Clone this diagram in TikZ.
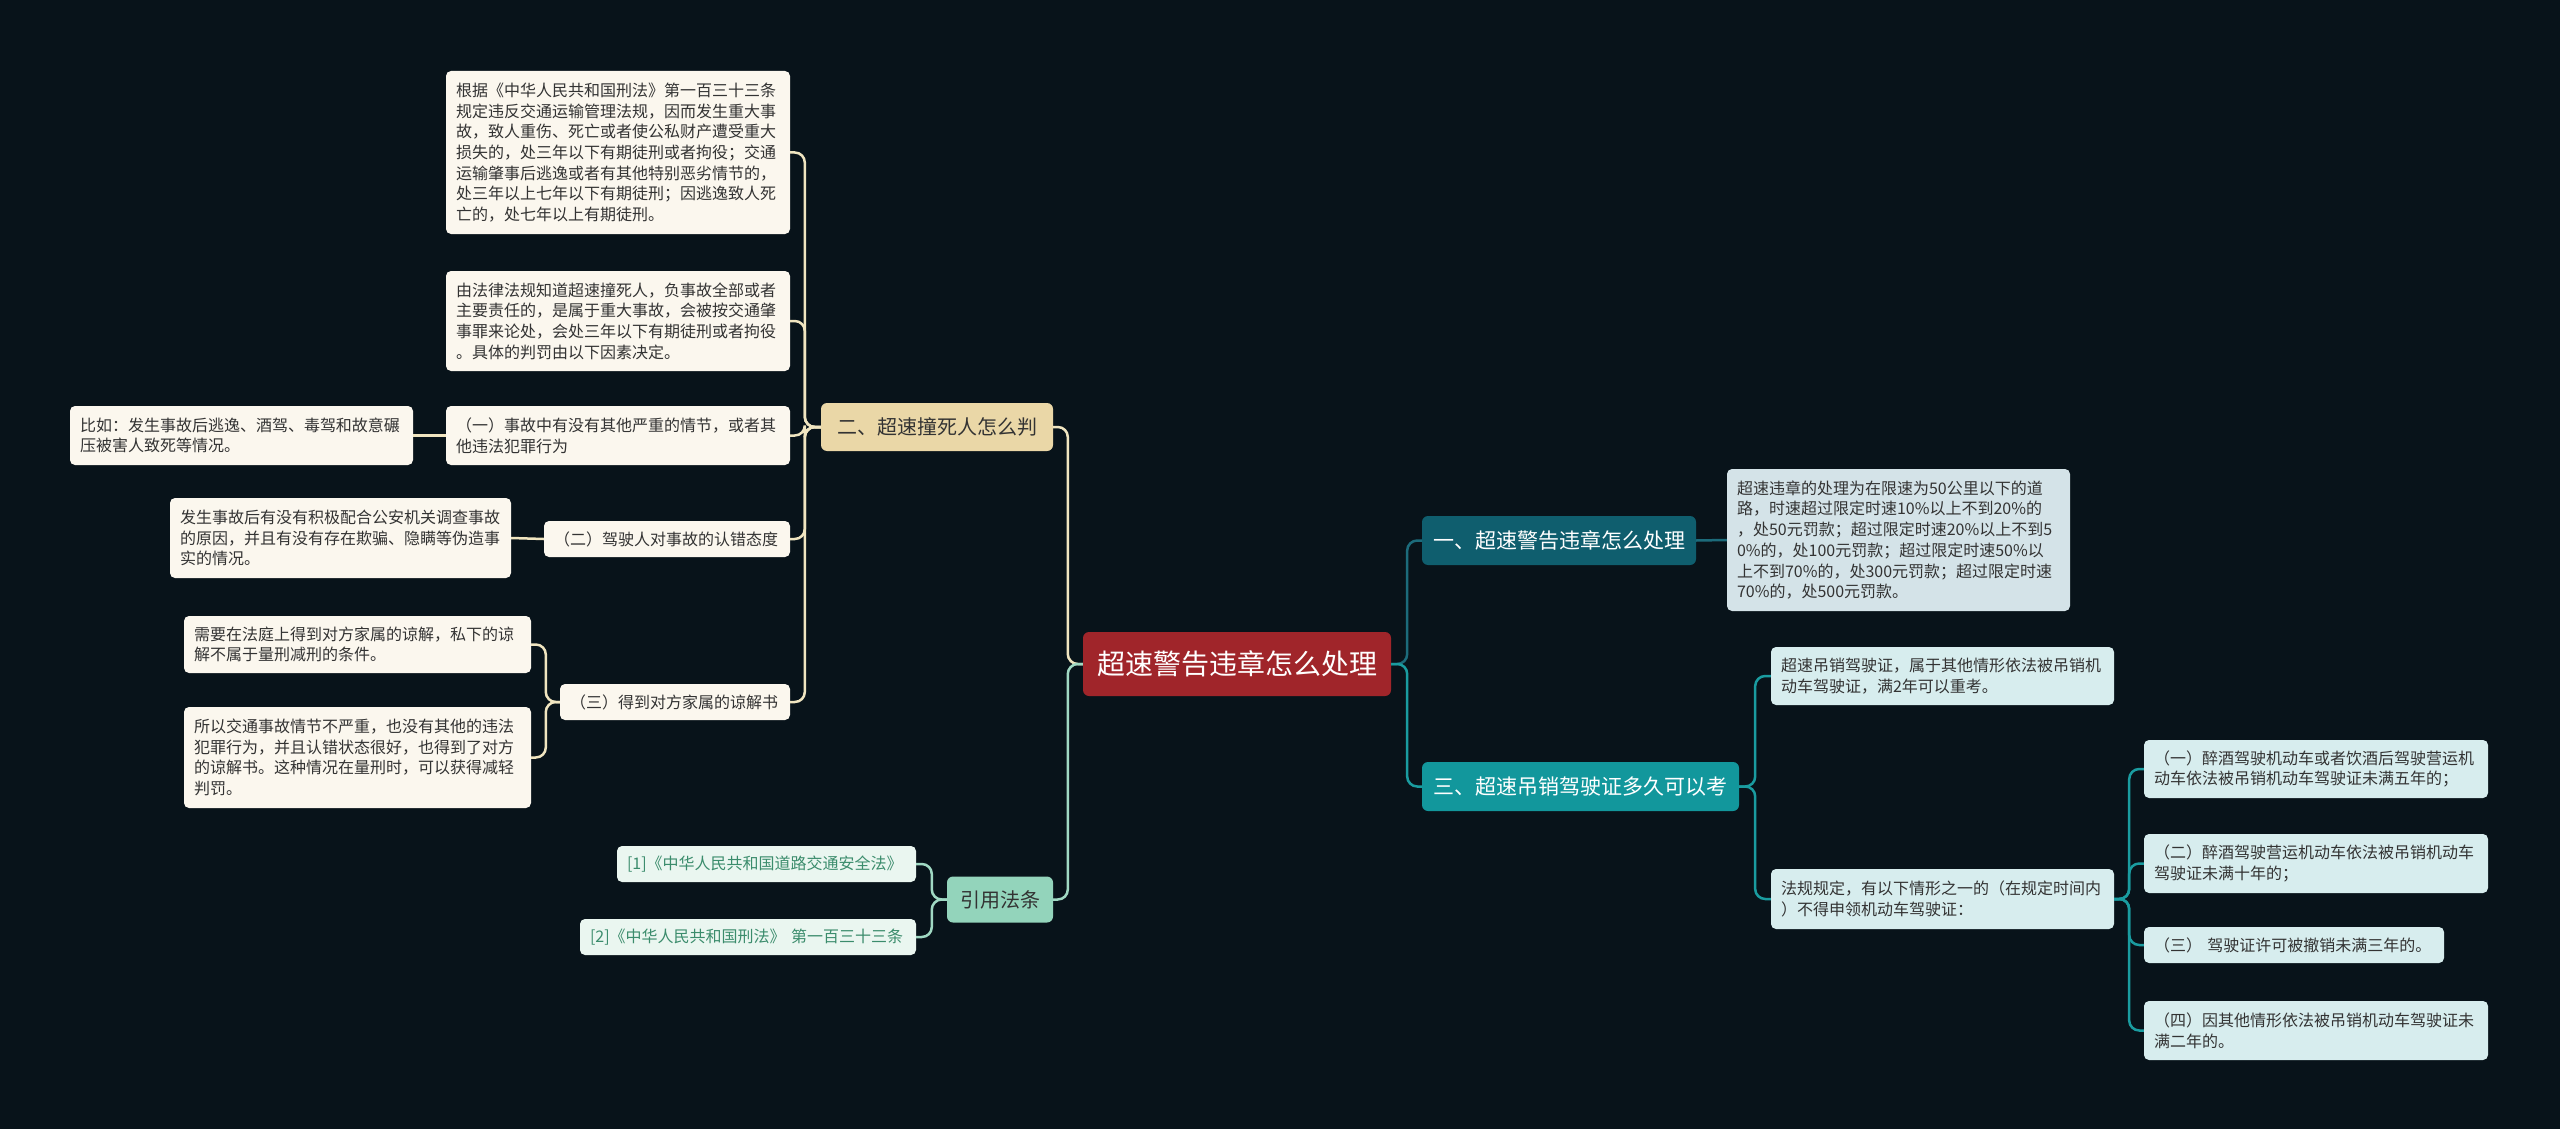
\documentclass[tikz,border=0pt]{standalone}
\usepackage{fontspec}
\setmainfont{Noto Sans CJK SC}
\usetikzlibrary{calc}
\definecolor{bg}{HTML}{08131A}
\definecolor{rootc}{HTML}{A0252A}
\definecolor{tan}{HTML}{EAD7A7}
\definecolor{lineL}{HTML}{F0E5C0}
\definecolor{leafL}{HTML}{FBF7EE}
\definecolor{txt}{HTML}{333333}
\definecolor{mint}{HTML}{93D4BB}
\definecolor{mintline}{HTML}{A0D9C3}
\definecolor{mintleaf}{HTML}{EAF6F0}
\definecolor{minttxt}{HTML}{3B8C6C}
\definecolor{dteal}{HTML}{0F5E6E}
\definecolor{dtealline}{HTML}{1C6B7B}
\definecolor{dtealleaf}{HTML}{D4E3E8}
\definecolor{teal}{HTML}{12979C}
\definecolor{tealline}{HTML}{1A9CA0}
\definecolor{tealleaf}{HTML}{D7EDEE}
\tikzset{
  box/.style={rectangle, rounded corners=5pt, inner xsep=10pt, inner ysep=0pt, align=left,
    font=\fontsize{16}{20.7}\selectfont, text=txt},
  bw/.style={text width=#1-20pt, minimum height=0pt},
  bh/.style={minimum height=#1},
  leafL/.style={box, fill=leafL},
  leafM/.style={box, fill=mintleaf, text=minttxt},
  leafD/.style={box, fill=dtealleaf},
  leafT/.style={box, fill=tealleaf},
  mainbox/.style={rectangle, rounded corners=6pt, inner sep=0pt, align=center, font=\fontsize{20}{24}\selectfont},
  conL/.style={draw=lineL, line width=2.5pt, rounded corners=10pt},
  conM/.style={draw=mintline, line width=2.5pt, rounded corners=10pt},
  conD/.style={draw=dtealline, line width=2.5pt, rounded corners=10pt},
  conT/.style={draw=tealline, line width=2.5pt, rounded corners=10pt},
}
\begin{document}
\begin{tikzpicture}[x=1pt,y=-1pt]
\useasboundingbox (0,0) rectangle (2560,1129);
\fill[bg] (0,0) rectangle (2560,1129);

% root
\node[mainbox, fill=rootc, text=white, minimum width=308pt, minimum height=64pt, font=\fontsize{28}{32}\selectfont] (root) at (1237,664) {超速警告违章怎么处理};

% left main branches
\node[mainbox, fill=tan, text=txt, minimum width=232pt, minimum height=48pt] (n2) at (937,427) {二、超速撞死人怎么判};
\node[mainbox, fill=mint, text=txt, minimum width=106pt, minimum height=46pt] (ref) at (1000,899.5) {引用法条};

% right main branches
\node[mainbox, fill=dteal, text=white, minimum width=274pt, minimum height=49pt, font=\fontsize{21}{25}\selectfont] (n1) at (1559,540.5) {一、超速警告违章怎么处理};
\node[mainbox, fill=teal, text=white, minimum width=317pt, minimum height=49pt, font=\fontsize{21}{25}\selectfont] (n3) at (1580.5,786.5) {三、超速吊销驾驶证多久可以考};

% left leaves
\node[leafL, bw=344pt, bh=163pt] (a1) at (618,152.5) {根据《中华人民共和国刑法》第一百三十三条\\规定违反交通运输管理法规，因而发生重大事\\故，致人重伤、死亡或者使公私财产遭受重大\\损失的，处三年以下有期徒刑或者拘役；交通\\运输肇事后逃逸或者有其他特别恶劣情节的，\\处三年以上七年以下有期徒刑；因逃逸致人死\\亡的，处七年以上有期徒刑。};
\node[leafL, bw=344pt, bh=100pt] (a2) at (618,321) {由法律法规知道超速撞死人，负事故全部或者\\主要责任的，是属于重大事故，会被按交通肇\\事罪来论处，会处三年以下有期徒刑或者拘役\\。具体的判罚由以下因素决定。};
\node[leafL, bw=344pt, bh=59pt] (a3) at (618,435.5) {（一）事故中有没有其他严重的情节，或者其\\他违法犯罪行为};
\node[leafL, bw=343pt, bh=59pt] (a3c) at (241.5,435.5) {比如：发生事故后逃逸、酒驾、毒驾和故意碾\\压被害人致死等情况。};
\node[leafL, bw=246pt, bh=36pt] (a4) at (667,539) {（二）驾驶人对事故的认错态度};
\node[leafL, bw=341pt, bh=80pt] (a4c) at (340.5,538) {发生事故后有没有积极配合公安机关调查事故\\的原因，并且有没有存在欺骗、隐瞒等伪造事\\实的情况。};
\node[leafL, bw=230pt, bh=36pt] (a5) at (675,702) {（三）得到对方家属的谅解书};
\node[leafL, bw=347pt, bh=57pt] (a5a) at (357.5,644.5) {需要在法庭上得到对方家属的谅解，私下的谅\\解不属于量刑减刑的条件。};
\node[leafL, bw=347pt, bh=101pt] (a5b) at (357.5,757.5) {所以交通事故情节不严重，也没有其他的违法\\犯罪行为，并且认错状态很好，也得到了对方\\的谅解书。这种情况在量刑时，可以获得减轻\\判罚。};

% references
\node[leafM, bw=299pt, bh=36pt] (r1) at (766.5,864) {[1]《中华人民共和国道路交通安全法》};
\node[leafM, bw=336pt, bh=36pt] (r2) at (748,937) {[2]《中华人民共和国刑法》~第一百三十三条};

% right leaves
\node[leafD, bw=343pt, bh=142pt] (d1) at (1898.5,540) {超速违章的处理为在限速为50公里以下的道\\路，时速超过限定时速10\%以上不到20\%的\\，处50元罚款；超过限定时速20\%以上不到5\\0\%的，处100元罚款；超过限定时速50\%以\\上不到70\%的，处300元罚款；超过限定时速\\70\%的，处500元罚款。};
\node[leafT, bw=343pt, bh=58pt] (t1) at (1942.5,676) {超速吊销驾驶证，属于其他情形依法被吊销机\\动车驾驶证，满2年可以重考。};
\node[leafT, bw=343pt, bh=60pt] (t2) at (1942.5,899) {法规规定，有以下情形之一的（在规定时间内\\）不得申领机动车驾驶证：};
\node[leafT, bw=344pt, bh=58pt] (u1) at (2316,769) {（一）醉酒驾驶机动车或者饮酒后驾驶营运机\\动车依法被吊销机动车驾驶证未满五年的；};
\node[leafT, bw=344pt, bh=59pt] (u2) at (2316,863.5) {（二）醉酒驾驶营运机动车依法被吊销机动车\\驾驶证未满十年的；};
\node[leafT, bw=300pt, bh=36pt] (u3) at (2294,945) {（三）~驾驶证许可被撤销未满三年的。};
\node[leafT, bw=344pt, bh=59pt] (u4) at (2316,1030.5) {（四）因其他情形依法被吊销机动车驾驶证未\\满二年的。};

% connectors: root
\draw[conL] (root.west) -- ($(root.west)+(-15,0)$) |- (n2.east);
\draw[conM] (root.west) -- ($(root.west)+(-15,0)$) |- (ref.east);
\draw[conD] (root.east) -- ($(root.east)+(16,0)$) |- (n1.west);
\draw[conT] (root.east) -- ($(root.east)+(16,0)$) |- (n3.west);

% n2 children
\foreach \c in {a1,a2,a3,a4,a5}
  \draw[conL] (n2.west) -- ($(n2.west)+(-16,0)$) |- (\c.east);
\draw[conL] (a3.west) -- (a3c.east);
\draw[conL] (a4.west) -- (a4c.east);
\draw[conL] (a5.west) -- ($(a5.west)+(-14,0)$) |- (a5a.east);
\draw[conL] (a5.west) -- ($(a5.west)+(-14,0)$) |- (a5b.east);

% ref children
\draw[conM] (ref.west) -- ($(ref.west)+(-15,0)$) |- (r1.east);
\draw[conM] (ref.west) -- ($(ref.west)+(-15,0)$) |- (r2.east);

% n1 child
\draw[conD] (n1.east) -- (d1.west);

% n3 children
\draw[conT] (n3.east) -- ($(n3.east)+(16,0)$) |- (t1.west);
\draw[conT] (n3.east) -- ($(n3.east)+(16,0)$) |- (t2.west);
\foreach \c in {u1,u2,u3,u4}
  \draw[conT] (t2.east) -- ($(t2.east)+(15,0)$) |- (\c.west);
\end{tikzpicture}
\end{document}
